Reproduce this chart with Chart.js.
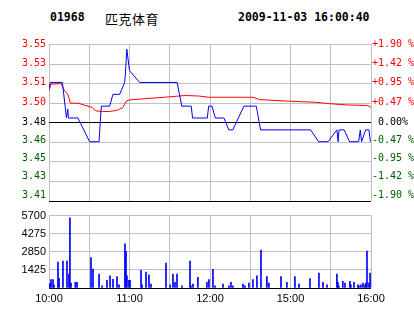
<!DOCTYPE html>
<html>
<head>
<meta charset="utf-8">
<script src="https://cdn.jsdelivr.net/npm/chart.js@4/dist/chart.umd.min.js"></script>
<style>
  body { margin: 0; background: #fff; width: 414px; height: 314px; overflow: hidden; position: relative; }
  .hd { position: absolute; top: 10px; line-height: 12px; font: bold 11.5px "DejaVu Sans Mono", monospace; color: #000; white-space: nowrap; }
  #stock-name { top: 9px; line-height: 14px; font: 13px "Noto Sans CJK SC", sans-serif; letter-spacing: 0.5px; }
  .box { position: absolute; left: 0; }
</style>
</head>
<body>
<div class="hd" style="left:50px">01968</div>
<div class="hd" id="stock-name" style="left:105px">匹克体育</div>
<div class="hd" style="left:238px">2009-11-03 16:00:40</div>
<div class="box" style="top:0"><canvas id="price-chart" width="414" height="210"></canvas></div>
<div class="box" style="top:206px"><canvas id="volume-chart" width="414" height="108"></canvas></div>
<script>
// minutes since 10:00 (lunch break removed, 240 trading minutes)
const TIME_TICKS = [0, 60, 120, 180, 240];
const TIME_LABELS = ["10:00", "11:00", "12:00", "15:00", "16:00"];

const PRICE_MIN = 3.41;
const PRICE_MAX = 3.542;
const PRICE_LABELS = ["3.41", "3.43", "3.45", "3.46", "3.48", "3.50", "3.51", "3.53", "3.55"];
const PCT_LABELS = ["-1.90 %", "-1.42 %", "-0.95 %", "-0.47 %", " 0.00%", "+0.47 %", "+0.95 %", "+1.42 %", "+1.90 %"];

const VOL_MAX = 5700;
const VOL_LABELS = ["", "1425", "2850", "4275", "5700"];

// price line
const PRICE_T = [0, 1, 10, 12, 13, 14, 14.5, 21.6, 30.3, 37.3, 39, 45.2, 47.7, 52.7, 56.4, 57, 58, 60, 67.6,
  95.5, 99, 106, 107, 118, 119, 121.5, 124, 130.4, 134, 137, 145.3, 154.5, 157.7, 195, 201, 208,
  214.6, 215.5, 216.2, 220, 224, 230.8, 232, 233, 236, 238.5, 239.5];
const PRICE = [3.505, 3.51, 3.51, 3.49, 3.48, 3.4875, 3.48, 3.48, 3.46, 3.46, 3.49, 3.49, 3.50, 3.50, 3.51, 3.518, 3.538, 3.52, 3.51,
  3.51, 3.49, 3.49, 3.48, 3.48, 3.49, 3.49, 3.48, 3.48, 3.47, 3.47, 3.49, 3.49, 3.47, 3.47, 3.46, 3.46,
  3.47, 3.46, 3.47, 3.47, 3.46, 3.46, 3.47, 3.46, 3.47, 3.47, 3.46];

// average price line
const AVG_T = [0, 1.5, 9, 11, 14, 16, 21.6, 32, 35, 40, 45, 51, 55, 58, 62, 86, 101.6, 112, 119, 152, 157, 179, 198, 210, 222.6, 237.5, 240];
const AVG = [3.503, 3.5086, 3.509, 3.504, 3.5, 3.4925, 3.4925, 3.489, 3.486, 3.4855, 3.4855, 3.4865, 3.489, 3.4947, 3.4955, 3.4975, 3.499, 3.4985, 3.4975, 3.4975, 3.4955, 3.4942, 3.4933, 3.492, 3.491, 3.4905, 3.489];

// volume
const VOL_T = [0, 0.8, 1.5, 3, 3.7, 6.7, 7.5, 10.4, 13.4, 14.9, 15.6, 16.4, 19.6, 20.9, 31.3, 32.8, 37.3, 39.5, 43.2, 45.5,
  47.7, 50.7, 52.2, 56.6, 57.4, 58.1, 59.6, 60.4, 68.6, 69.3, 72.3, 74.5, 76, 87.2, 90.2, 92.4, 93.9, 95.4, 99.1,
  105.1, 105.8, 107.3, 111, 117.7, 119.2, 122.2, 123.7, 129.7, 134.1, 135.6, 137.1, 144.6, 146, 149, 152, 155, 158,
  162.4, 163.9, 172.9, 177.3, 183.3, 186.3, 194.5, 201.2, 204.2, 207.2, 214.6, 215.3, 216, 219, 220.6, 224.3, 225,
  227.3, 230.3, 231, 232.5, 234, 235.5, 236.2, 237, 238.5, 239.3];
const VOL = [240, 360, 670, 670, 240, 2040, 770, 2110, 2110, 1100, 5530, 380, 455, 455, 2400, 1490, 1100, 165, 600, 960,
  690, 890, 240, 3485, 2885, 960, 600, 600, 1390, 240, 1250, 1030, 310, 1970, 240, 1100, 455, 1100, 165,
  2110, 165, 310, 840, 455, 670, 1465, 165, 310, 165, 455, 165, 310, 165, 380, 670, 960, 2980,
  890, 380, 890, 455, 890, 310, 740, 1180, 455, 240, 1100, 455, 165, 530, 380, 530, 240,
  455, 240, 165, 240, 380, 240, 380, 2910, 380, 1180];

const GRID = "#c0c0c0";
const RED = "#ff0000";
const GREEN = "#006000";
const monoFont = { family: "'DejaVu Sans Mono', monospace", size: 10 };
const sansFont = { family: "'Liberation Sans', Arial, sans-serif", size: 11 };
// the old chart prints its lower axis labels a little above their grid lines (px, up)
const LABEL_LIFT = [5.5, 5, 3.5, 2, 0, 1, 1, 0.5, 0];
const PX_PER_UNIT = 1200;

function labelColor(ctx) {
  if (ctx.index > 4) return RED;
  if (ctx.index < 4) return GREEN;
  return "#000";
}

const priceStep = (PRICE_MAX - PRICE_MIN) / (PRICE_LABELS.length - 1);

function gridTicks(scale) {
  scale.ticks = PRICE_LABELS.map((l, i) => ({ value: PRICE_MIN + i * priceStep }));
}

function labelTicks(scale) {
  scale.ticks = PRICE_LABELS.map((l, i) => ({ value: PRICE_MIN + i * priceStep + LABEL_LIFT[i] / PX_PER_UNIT }));
}

const xTimeScale = {
  type: "linear",
  min: 0,
  max: 240,
  offset: false,
  afterBuildTicks: (scale) => {
    scale.ticks = [0, 30, 60, 90, 120, 150, 180, 210, 240].map((v) => ({ value: v }));
  },
  grid: { color: GRID, drawTicks: false, offset: false },
  border: { display: false },
};

Chart.defaults.animation = false;
Chart.defaults.devicePixelRatio = 1;

// Price chart
const priceCanvas = document.getElementById("price-chart");
new Chart(priceCanvas, {
  type: "line",
  data: {
    datasets: [
      {
        data: PRICE_T.map((t, i) => ({ x: t, y: PRICE[i] })),
        borderColor: "#0000ff",
        borderWidth: 1,
        pointRadius: 0,
        tension: 0,
        yAxisID: "y",
      },
      {
        data: AVG_T.map((t, i) => ({ x: t, y: AVG[i] })),
        borderColor: RED,
        borderWidth: 1,
        pointRadius: 0,
        tension: 0,
        yAxisID: "y",
      },
    ],
  },
  options: {
    responsive: false,
    layout: { padding: { top: 44.5, bottom: 7, left: 0, right: 0 } },
    plugins: { legend: { display: false }, tooltip: { enabled: false } },
    scales: {
      x: {
        ...xTimeScale,
        ticks: { display: false },
        afterFit: (s) => { s.height = 0; },
      },
      // grid only
      y: {
        type: "linear",
        position: "left",
        min: PRICE_MIN,
        max: PRICE_MAX,
        afterBuildTicks: gridTicks,
        afterFit: (s) => { s.width = 0; },
        grid: {
          drawTicks: false,
          color: (ctx) => (ctx.index === 0 || ctx.index === 4 ? "#000" : GRID),
        },
        border: { display: false },
        ticks: { display: false },
      },
      // price labels
      yl: {
        type: "linear",
        position: "left",
        min: PRICE_MIN,
        max: PRICE_MAX,
        afterBuildTicks: labelTicks,
        afterFit: (s) => { s.width = 49; },
        grid: { display: false, drawTicks: false },
        border: { display: false },
        ticks: {
          padding: 3,
          font: monoFont,
          color: labelColor,
          callback: (v, i) => PRICE_LABELS[i],
        },
      },
      // percent labels
      yr: {
        type: "linear",
        position: "right",
        min: PRICE_MIN,
        max: PRICE_MAX,
        afterBuildTicks: labelTicks,
        afterFit: (s) => { s.width = 43; },
        grid: { display: false, drawTicks: false },
        border: { display: false },
        ticks: {
          padding: 1,
          font: monoFont,
          color: labelColor,
          callback: (v, i) => PCT_LABELS[i],
        },
      },
    },
  },
});

// Volume chart
const volumeCanvas = document.getElementById("volume-chart");
new Chart(volumeCanvas, {
  type: "bar",
  data: {
    datasets: [
      {
        data: VOL_T.map((t, i) => ({ x: t, y: VOL[i] })),
        backgroundColor: "#0000ff",
        borderWidth: 0,
        barThickness: 1,
      },
    ],
  },
  options: {
    responsive: false,
    layout: { padding: { top: 3, bottom: 0, left: 0, right: 43 } },
    plugins: { legend: { display: false }, tooltip: { enabled: false } },
    scales: {
      x: {
        ...xTimeScale,
        afterFit: (s) => { s.height = 26; },
        ticks: {
          padding: 4,
          autoSkip: false,
          maxRotation: 0,
          font: sansFont,
          color: "#000",
          callback: (v) => {
            const k = TIME_TICKS.indexOf(v);
            return k >= 0 ? TIME_LABELS[k] : "";
          },
        },
      },
      y: {
        type: "linear",
        min: 0,
        max: VOL_MAX,
        afterBuildTicks: (scale) => {
          scale.ticks = VOL_LABELS.map((l, i) => ({ value: (VOL_MAX / (VOL_LABELS.length - 1)) * i }));
        },
        afterFit: (s) => { s.width = 49; },
        grid: {
          drawTicks: false,
          color: (ctx) => (ctx.index === 0 ? "#000" : GRID),
        },
        border: { display: false },
        ticks: {
          padding: 3,
          font: sansFont,
          color: "#000",
          callback: (v, i) => VOL_LABELS[i],
        },
      },
    },
  },
});
</script>
</body>
</html>
